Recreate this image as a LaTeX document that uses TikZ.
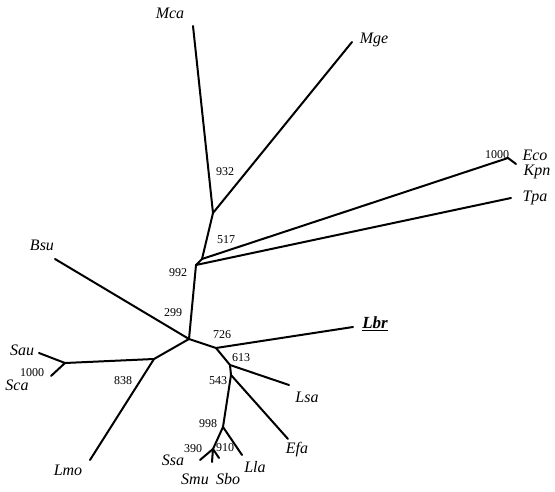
\documentclass[tikz,border=0pt]{standalone}
\usepackage{fontspec}
\setmainfont{Liberation Serif}
\begin{document}
\begin{tikzpicture}[x=1pt,y=-1pt,
  br/.style={line width=2pt,line cap=round},
  taxon/.style={font=\fontsize{16}{16}\selectfont\itshape,inner sep=0pt},
  boot/.style={font=\fontsize{12}{12}\selectfont,inner sep=0pt}]
\useasboundingbox (0,0) rectangle (555,492);
% internal nodes
\coordinate (N1) at (213,213);
\coordinate (N2) at (202,259);
\coordinate (N3) at (196,265);
\coordinate (N4) at (189,339);
\coordinate (N5) at (154,359);
\coordinate (N6) at (65,363);
\coordinate (N7) at (216,348);
\coordinate (N8) at (230,365);
\coordinate (N9) at (231,375);
\coordinate (N10) at (223,427);
\coordinate (N11) at (213,449);
\coordinate (NEK) at (508,158);
% leaf ends
\coordinate (eMca) at (193,26);
\coordinate (eMge) at (352,42);
\coordinate (eKpn) at (516,164);
\coordinate (eTpa) at (511,198);
\coordinate (eBsu) at (55,259);
\coordinate (eSau) at (39,353);
\coordinate (eSca) at (51,376);
\coordinate (eLmo) at (90,460);
\coordinate (eLbr) at (353,327);
\coordinate (eLsa) at (289,385);
\coordinate (eEfa) at (288,439);
\coordinate (eLla) at (242,455);
\coordinate (eSsa) at (200,460);
\coordinate (eSmu) at (212,462);
\coordinate (eSbo) at (219,458);
% branches
\draw[br] (eMca) -- (N1) -- (eMge);
\draw[br] (N1) -- (N2) -- (N3) -- (N4);
\draw[br] (N2) -- (NEK) -- (eKpn);
\draw[br] (N3) -- (eTpa);
\draw[br] (eBsu) -- (N4);
\draw[br] (N4) -- (N5) -- (N6);
\draw[br] (eSau) -- (N6) -- (eSca);
\draw[br] (N5) -- (eLmo);
\draw[br] (N4) -- (N7) -- (eLbr);
\draw[br] (N7) -- (N8) -- (eLsa);
\draw[br] (N8) -- (N9) -- (eEfa);
\draw[br] (N9) -- (N10) -- (eLla);
\draw[br] (N10) -- (N11);
\draw[br] (N11) -- (eSsa);
\draw[br] (N11) -- (eSmu);
\draw[br] (N11) -- (eSbo);
% taxa
\node[taxon] (Mca) at (170,13) {Mca};
\node[taxon] (Mge) at (374,40) {Mge};
\node[taxon] (Eco) at (535,155) {Eco};
\node[taxon] (Kpn) at (537,172) {Kpn};
\node[taxon] (Tpa) at (535,198) {Tpa};
\node[taxon] (Bsu) at (42,245) {Bsu};
\node[taxon] (Sau) at (22,350) {Sau};
\node[taxon] (Sca) at (17,385) {Sca};
\node[taxon] (Lmo) at (68,470) {Lmo};
\node[taxon,font=\fontsize{17}{17}\selectfont\bfseries\itshape] (Lbr) at (375,324) {\underline{Lbr}};
\node[taxon] (Lsa) at (307,397) {Lsa};
\node[taxon] (Efa) at (297,450) {Efa};
\node[taxon] (Lla) at (255,467) {Lla};
\node[taxon] (Ssa) at (173,460) {Ssa};
\node[taxon] (Smu) at (195,479) {Smu};
\node[taxon] (Sbo) at (228,479) {Sbo};
% bootstrap values
\node[boot] (b932) at (225,172) {932};
\node[boot] (b517) at (226,240) {517};
\node[boot] (b1000a) at (497,155) {1000};
\node[boot] (b992) at (178,273) {992};
\node[boot] (b299) at (173,313) {299};
\node[boot] (b726) at (222,335) {726};
\node[boot] (b613) at (241,358) {613};
\node[boot] (b543) at (218,381) {543};
\node[boot] (b998) at (208,424) {998};
\node[boot] (b390) at (193,449) {390};
\node[boot] (b910) at (225,448) {910};
\node[boot] (b838) at (123,381) {838};
\node[boot] (b1000b) at (32,373) {1000};
\end{tikzpicture}
\end{document}
